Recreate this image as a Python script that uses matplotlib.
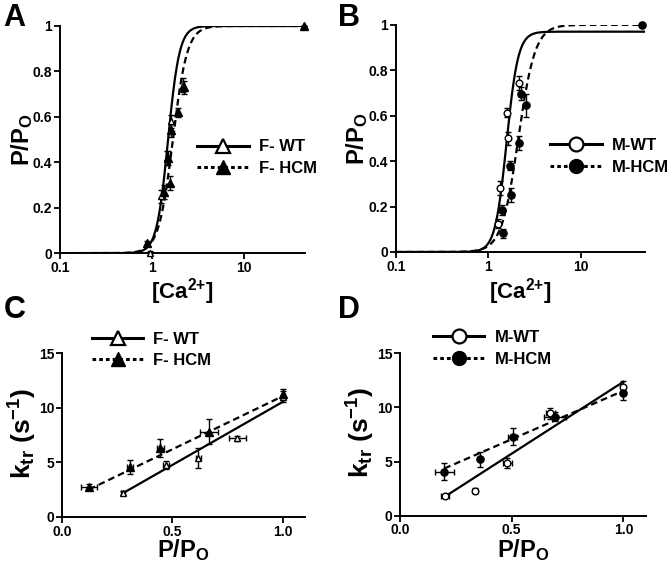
import matplotlib
matplotlib.use('Agg')
import matplotlib.pyplot as plt
from matplotlib.lines import Line2D
from matplotlib.ticker import FixedLocator, FuncFormatter, NullLocator
import numpy as np

plt.rcParams['font.family'] = ['Liberation Sans', 'DejaVu Sans']
plt.rcParams['font.weight'] = 'bold'
plt.rcParams['mathtext.fontset'] = 'custom'
plt.rcParams['mathtext.rm'] = 'Liberation Sans:bold'
plt.rcParams['mathtext.bf'] = 'Liberation Sans:bold'
plt.rcParams['mathtext.it'] = 'Liberation Sans:bold'
plt.rcParams['mathtext.default'] = 'rm'

# ---- data: panel A (female), P/Po vs [Ca2+] ----
a_wt_x = [0.95, 1.25, 1.45, 1.62, 2.15, 45]
a_wt_y = [0.0, 0.25, 0.42, 0.58, 0.74, 1.0]
a_wt_err = [0.01, 0.03, 0.03, 0.03, 0.03, 0.0]
a_hcm_x = [0.89, 1.33, 1.57, 1.47, 1.62, 1.90, 2.20, 45]
a_hcm_y = [0.045, 0.27, 0.31, 0.42, 0.54, 0.62, 0.73, 1.0]
a_hcm_err = [0.01, 0.03, 0.03, 0.03, 0.03, 0.02, 0.03, 0.0]
# Hill fit parameters: (K, n, top)
a_wt_fit = (1.49, 7.0, 1.0)
a_hcm_fit = (1.68, 5.6, 1.0)

# ---- panel B (male) ----
b_wt_x = [1.28, 1.34, 1.62, 1.58, 2.11]
b_wt_y = [0.125, 0.283, 0.50, 0.614, 0.743]
b_wt_err = [0.02, 0.03, 0.03, 0.02, 0.03]
b_hcm_x = [1.45, 1.39, 1.76, 1.72, 2.11, 2.24, 2.52, 45]
b_hcm_y = [0.082, 0.185, 0.251, 0.379, 0.48, 0.697, 0.645, 1.0]
b_hcm_err = [0.02, 0.02, 0.03, 0.02, 0.03, 0.03, 0.05, 0.0]
b_wt_fit = (1.57, 7.0, 0.97)
b_hcm_fit = (2.10, 4.8, 1.0)

# ---- panel C (female), ktr vs P/Po ----
c_wt_x = [0.276, 0.471, 0.618, 0.794, 1.0]
c_wt_y = [2.17, 4.76, 5.37, 7.2, 11.0]
c_wt_xerr = [0.01, 0.015, 0.01, 0.04, 0.0]
c_wt_yerr = [0.2, 0.4, 0.9, 0.2, 0.5]
c_hcm_x = [0.123, 0.309, 0.445, 0.667, 1.0]
c_hcm_y = [2.77, 4.6, 6.28, 7.8, 11.25]
c_hcm_xerr = [0.037, 0.015, 0.015, 0.04, 0.0]
c_hcm_yerr = [0.25, 0.66, 0.82, 1.13, 0.5]
# linear fits: (slope, intercept)
c_wt_line = (11.57, -1.02)
c_hcm_line = (9.75, 1.32)

# ---- panel D (male) ----
d_wt_x = [0.202, 0.336, 0.481, 0.673, 1.0]
d_wt_y = [1.84, 2.33, 4.84, 9.45, 11.9]
d_wt_xerr = [0.02, 0.01, 0.02, 0.02, 0.0]
d_wt_yerr = [0.1, 0.2, 0.45, 0.5, 0.5]
d_hcm_x = [0.199, 0.359, 0.505, 0.695, 1.0]
d_hcm_y = [4.08, 5.21, 7.3, 9.14, 11.29]
d_hcm_xerr = [0.043, 0.01, 0.02, 0.05, 0.0]
d_hcm_yerr = [0.77, 0.7, 0.77, 0.4, 0.6]
d_wt_line = (13.26, -0.9)
d_hcm_line = (8.94, 2.59)

DASH = (0, (3, 1.8))
DOT = (0, (1.2, 1.0))
TICK_FS = 10
LABEL_FS = 17
LEG_FS = 12

fig = plt.figure(figsize=(6.72, 5.65), dpi=100)
axA = fig.add_axes([0.0893, 0.552, 0.365, 0.402])
axB = fig.add_axes([0.589, 0.554, 0.371, 0.402])
axC = fig.add_axes([0.092, 0.085, 0.362, 0.290])
axD = fig.add_axes([0.595, 0.087, 0.366, 0.288])


def style(ax):
    for s in ['top', 'right']:
        ax.spines[s].set_visible(False)
    for s in ['left', 'bottom']:
        ax.spines[s].set_linewidth(1.4)
    ax.tick_params(direction='out', length=4, width=1.3, labelsize=TICK_FS, pad=1.5)


def hill(x, p):
    K, n, top = p
    return top * x**n / (x**n + K**n)


def pca_panel(ax, wx, wy, we, hx, hy, he, wfit, hfit, marker, xmax, xlab_y):
    xs = np.logspace(-1, np.log10(xmax), 400)
    ax.plot(xs, hill(xs, wfit), color='black', lw=1.6, zorder=3)
    ax.plot(xs, hill(xs, hfit), color='black', lw=1.6, ls=DASH, zorder=3)
    ax.errorbar(wx, wy, yerr=we, fmt=marker, mfc='white', mec='black', mew=1.0, ms=4.8,
                ecolor='black', elinewidth=1, capsize=2, zorder=4, clip_on=False)
    ax.errorbar(hx, hy, yerr=he, fmt=marker, mfc='black', mec='black', ms=5.2,
                ecolor='black', elinewidth=1, capsize=2, zorder=4, clip_on=False)
    ax.set_xscale('log')
    ax.set_xlim(0.1, xmax)
    ax.set_ylim(0, 1.0)
    ax.xaxis.set_major_locator(FixedLocator([0.1, 1, 10]))
    ax.xaxis.set_minor_locator(NullLocator())
    ax.xaxis.set_major_formatter(FuncFormatter(lambda v, p: '%g' % v))
    ax.set_yticks([0, 0.2, 0.4, 0.6, 0.8, 1.0])
    ax.yaxis.set_major_formatter(FuncFormatter(lambda v, p: '%g' % v))
    style(ax)
    ax.set_xlabel('[Ca$^{2{+}}$]', fontsize=LABEL_FS - 1, fontweight='bold')
    ax.set_ylabel('P/P$_{\\mathrm{O}}$', fontsize=LABEL_FS, fontweight='bold')
    ax.xaxis.label.set_va('top')
    ax.yaxis.label.set_va('center')
    ax.xaxis.set_label_coords(0.5, xlab_y)
    ax.yaxis.set_label_coords(-0.155, 0.50)


def ktr_panel(ax, wx, wy, wxe, wye, hx, hy, hxe, hye, wline, hline, marker, xlab_y):
    xw = np.array([min(wx), max(wx)])
    xh = np.array([min(hx), max(hx)])
    ax.plot(xw, wline[0] * xw + wline[1], color='black', lw=1.6, zorder=3)
    ax.plot(xh, hline[0] * xh + hline[1], color='black', lw=1.6, ls=DASH, zorder=3)
    ax.errorbar(wx, wy, xerr=wxe, yerr=wye, fmt=marker, mfc='white', mec='black', mew=1.0,
                ms=4.8, ecolor='black', elinewidth=1, capsize=2.2, zorder=4)
    ax.errorbar(hx, hy, xerr=hxe, yerr=hye, fmt=marker, mfc='black', mec='black', ms=5.2,
                ecolor='black', elinewidth=1, capsize=2.2, zorder=4)
    ax.set_xlim(0, 1.1)
    ax.set_ylim(0, 15)
    ax.set_xticks([0, 0.5, 1.0])
    ax.set_xticklabels(['0.0', '0.5', '1.0'])
    ax.set_yticks([0, 5, 10, 15])
    style(ax)
    ax.set_xlabel('P/P$_{\\mathrm{O}}$', fontsize=LABEL_FS, fontweight='bold')
    ax.set_ylabel('k$_{\\mathrm{tr}}$ (s$^{\\mathrm{-1}}$)', fontsize=LABEL_FS + 2,
                  fontweight='bold')
    ax.xaxis.label.set_va('top')
    ax.yaxis.label.set_va('center')
    ax.xaxis.set_label_coords(0.5, xlab_y)
    ax.yaxis.set_label_coords(-0.16, 0.51)


def add_legend(ax, marker, names, anchor):
    h = [Line2D([], [], color='black', lw=2.2, marker=marker, mfc='white', mec='black',
                mew=1.6, ms=10),
         Line2D([], [], color='black', lw=2.2, ls=DOT, marker=marker, mfc='black',
                mec='black', ms=10)]
    leg = ax.legend(h, names, loc='center left', bbox_to_anchor=anchor, frameon=False,
                    fontsize=LEG_FS, handlelength=3.1, handletextpad=0.6, labelspacing=0.4,
                    borderpad=0, borderaxespad=0, numpoints=1)
    for t in leg.get_texts():
        t.set_fontweight('bold')


pca_panel(axA, a_wt_x, a_wt_y, a_wt_err, a_hcm_x, a_hcm_y, a_hcm_err, a_wt_fit, a_hcm_fit,
          '^', 46, -0.10)
pca_panel(axB, b_wt_x, b_wt_y, b_wt_err, b_hcm_x, b_hcm_y, b_hcm_err, b_wt_fit, b_hcm_fit,
          'o', 49, -0.105)
ktr_panel(axC, c_wt_x, c_wt_y, c_wt_xerr, c_wt_yerr, c_hcm_x, c_hcm_y, c_hcm_xerr, c_hcm_yerr,
          c_wt_line, c_hcm_line, '^', -0.125)
ktr_panel(axD, d_wt_x, d_wt_y, d_wt_xerr, d_wt_yerr, d_hcm_x, d_hcm_y, d_hcm_xerr, d_hcm_yerr,
          d_wt_line, d_hcm_line, 'o', -0.13)

add_legend(axA, '^', ['F- WT', 'F- HCM'], (0.56, 0.42))
add_legend(axB, 'o', ['M-WT', 'M-HCM'], (0.62, 0.42))
add_legend(axC, '^', ['F- WT', 'F- HCM'], (0.123, 1.02))
add_legend(axD, 'o', ['M-WT', 'M-HCM'], (0.134, 1.03))

for lab, (x, y) in zip(['A', 'B', 'C', 'D'],
                       [(0.005, 0.995), (0.503, 0.995), (0.005, 0.478), (0.503, 0.478)]):
    fig.text(x, y, lab, fontsize=22, fontweight='bold', ha='left', va='top')

fig.savefig('out.png', dpi=100)
